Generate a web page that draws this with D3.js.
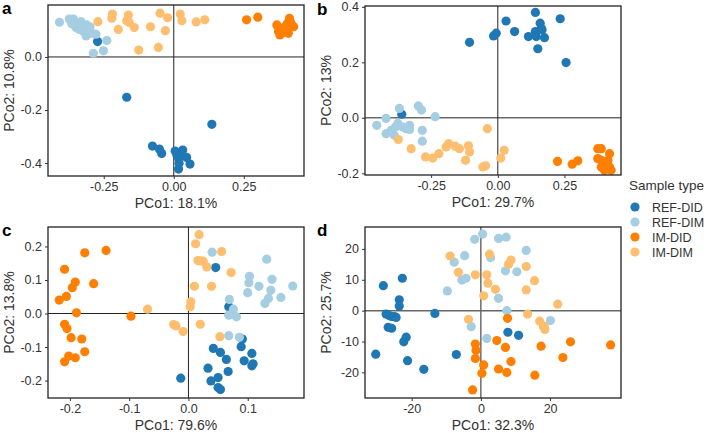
<!DOCTYPE html>
<html>
<head>
<meta charset="utf-8">
<script src="https://cdn.jsdelivr.net/npm/d3@7"></script>
<style>
  html, body { margin: 0; padding: 0; background: #fff; }
  svg { display: block; font-family: "Liberation Sans", Arial, sans-serif; }
</style>
</head>
<body>
<svg id="chart" width="708" height="433"></svg>
<script>
// --- Data ---
const groups = ["REF-DID", "REF-DIM", "IM-DID", "IM-DIM"];
const groupColors = ["#1f78b4", "#a6cee3", "#ff7f00", "#fdbf6f"];

// panel a
const aRefDid = [[-0.272,0.058],[-0.168,-0.152],[0.136,-0.254],[-0.076,-0.336],[-0.051,-0.348],[-0.043,-0.364],[0.005,-0.355],[0.023,-0.370],[0.032,-0.351],[0.017,-0.382],[0.046,-0.379],[0.058,-0.404],[0.019,-0.401],[0.017,-0.423],[0.011,-0.370]];
const aRefDim = [[-0.408,0.131],[-0.373,0.143],[-0.358,0.143],[-0.364,0.125],[-0.344,0.121],[-0.331,0.133],[-0.311,0.121],[-0.337,0.104],[-0.322,0.096],[-0.305,0.102],[-0.313,0.079],[-0.293,0.089],[-0.278,0.086],[-0.239,0.062],[-0.251,0.023],[-0.287,0.014],[-0.349,0.111],[-0.299,0.114]];
const aImDid = [[0.260,0.140],[0.300,0.150],[0.368,0.121],[0.379,0.108],[0.385,0.089],[0.401,0.096],[0.406,0.127],[0.413,0.146],[0.422,0.121],[0.428,0.114],[0.397,0.114],[0.416,0.133],[0.374,0.096],[0.391,0.102],[0.409,0.089],[0.379,0.083]];
const aImDim = [[-0.271,0.133],[-0.219,0.162],[-0.221,0.146],[-0.198,0.104],[-0.168,0.137],[-0.162,0.158],[-0.159,0.130],[-0.141,0.111],[-0.125,0.026],[-0.083,0.114],[-0.055,0.036],[-0.049,0.165],[-0.030,0.099],[-0.022,0.148],[0.023,0.162],[0.029,0.137],[0.080,0.132],[0.111,0.140]];

// panel b
const bRefDid = [[-0.106,0.272],[-0.016,0.295],[-0.006,0.305],[0.031,0.349],[0.063,0.311],[0.115,0.293],[0.141,0.380],[0.141,0.311],[0.144,0.293],[0.159,0.341],[0.163,0.323],[0.166,0.317],[0.175,0.289],[0.150,0.249],[0.234,0.357],[0.256,0.199],[-0.360,0.013]];
const bRefDim = [[-0.454,-0.027],[-0.419,-0.002],[-0.419,-0.057],[-0.400,-0.045],[-0.384,-0.033],[-0.369,0.034],[-0.375,-0.020],[-0.356,-0.033],[-0.344,-0.039],[-0.331,-0.027],[-0.331,-0.042],[-0.298,0.043],[-0.286,0.028],[-0.283,-0.045],[-0.283,-0.084],[-0.235,0.004],[-0.388,-0.063]];
const bImDid = [[0.224,-0.157],[0.279,-0.167],[0.300,-0.155],[0.375,-0.111],[0.388,-0.111],[0.419,-0.129],[0.375,-0.147],[0.394,-0.159],[0.406,-0.165],[0.419,-0.177],[0.388,-0.177],[0.400,-0.189],[0.425,-0.189],[0.388,-0.153],[0.413,-0.153]];
const bImDim = [[-0.373,-0.078],[-0.325,-0.111],[-0.271,-0.141],[-0.244,-0.145],[-0.221,-0.129],[-0.194,-0.105],[-0.184,-0.093],[-0.159,-0.102],[-0.144,-0.111],[-0.121,-0.153],[-0.110,-0.101],[-0.106,-0.123],[-0.056,-0.177],[-0.046,-0.173],[-0.039,-0.039],[0.011,-0.145],[0.024,-0.117]];

// panel c
const cRefDid = [[0.046,0.137],[0.068,0.020],[0.091,-0.076],[0.042,-0.104],[0.054,-0.116],[0.089,-0.099],[0.107,-0.119],[0.064,-0.137],[0.094,-0.141],[0.107,-0.156],[0.109,-0.150],[0.033,-0.163],[0.067,-0.173],[0.050,-0.191],[0.038,-0.201],[0.050,-0.221],[0.054,-0.227],[-0.013,-0.193]];
const cRefDim = [[0.040,0.183],[0.132,0.162],[0.103,0.111],[0.102,0.092],[0.141,0.102],[0.119,0.081],[0.139,0.069],[0.100,0.062],[0.156,0.048],[0.135,0.045],[0.129,0.030],[0.176,0.082],[0.069,0.042],[0.076,0.013],[0.068,-0.005],[0.081,-0.010],[0.068,-0.066],[0.086,-0.071]];
const cImDid = [[-0.209,0.132],[-0.218,0.040],[-0.206,0.051],[-0.196,0.077],[-0.191,0.094],[-0.175,0.181],[-0.139,0.188],[-0.160,0.089],[-0.189,0.002],[-0.209,-0.032],[-0.205,-0.045],[-0.198,-0.072],[-0.180,-0.076],[-0.175,-0.114],[-0.191,-0.132],[-0.202,-0.127],[-0.209,-0.144],[-0.097,-0.008]];
const cImDim = [[-0.069,0.013],[-0.025,-0.033],[-0.021,-0.037],[-0.009,-0.054],[0.004,0.035],[0.003,0.020],[0.018,0.235],[0.012,0.208],[0.016,0.158],[0.020,0.157],[0.025,0.156],[0.031,0.139],[0.010,0.081],[0.039,0.081],[0.056,0.185],[0.072,0.122],[0.020,-0.032],[0.053,-0.069]];

// panel d
const dRefDid = [[-30.4,-14.1],[-28.2,8.1],[-27.4,-1.1],[-26.5,-1.6],[-25.8,-1.9],[-25.0,-1.9],[-24.5,-2.2],[-26.8,-5.4],[-25.8,-5.7],[-23.6,3.5],[-23.6,1.5],[-22.7,10.5],[-21.6,-8.6],[-22.3,-10.1],[-21.2,-16.2],[-16.5,-19.0],[-13.3,-0.9],[-7.1,-14.2],[7.8,-7.0],[10.9,-8.0]];
const dRefDim = [[-9.7,6.4],[-7.7,15.7],[-5.5,9.9],[-4.7,17.8],[-4.3,10.5],[-1.8,23.1],[0.5,24.8],[2.8,17.2],[5.1,23.4],[7.3,23.8],[7.1,12.9],[10.4,12.6],[5.1,4.0],[13.1,19.5],[-2.8,-5.2],[1.7,-9.0],[7.5,0.0],[20.1,-3.2]];
const dImDid = [[7.7,-2.5],[4.6,-9.7],[7.1,-11.9],[-1.6,-10.8],[-1.4,-12.8],[-1.6,-15.5],[0.8,-17.6],[0.3,-20.3],[-2.4,-25.7],[5.1,-18.9],[7.5,-20.0],[8.7,-16.5],[17.4,-11.5],[18.2,-5.2],[15.6,-20.9],[23.7,-15.2],[25.9,-10.1],[37.5,-11.1]];
const dImDim = [[-8.9,17.7],[-6.5,12.4],[-1.6,11.6],[2.5,18.3],[1.7,11.6],[2.0,8.9],[4.2,6.9],[0.8,4.8],[-3.6,-2.8],[8.0,15.0],[8.7,16.4],[13.1,14.3],[13.1,6.7],[15.5,9.7],[13.5,-1.1],[17.0,-3.4],[18.2,-5.0],[18.5,-6.1],[22.2,2.1]];

// axis labels and ticks per panel
const panelLetters = ["a", "b", "c", "d"];
const xTitles = ["PCo1: 18.1%", "PCo1: 29.7%", "PCo1: 79.6%", "PCo1: 32.3%"];
const yTitles = ["PCo2: 10.8%", "PCo2: 13%", "PCo2: 13.8%", "PCo2: 25.7%"];
const xTicks = [[-0.25, 0, 0.25], [-0.25, 0, 0.25], [-0.2, -0.1, 0, 0.1], [-20, 0, 20]];
const yTicks = [[-0.4, -0.2, 0], [-0.2, 0, 0.2, 0.4], [-0.2, -0.1, 0, 0.1, 0.2], [-20, -10, 0, 10, 20]];
const xFormats = [".2f", ".2f", ".1f", "d"];
const yFormats = [".1f", ".1f", ".1f", "d"];
const xDomains = [[-0.449, 0.465], [-0.498, 0.462], [-0.237, 0.195], [-33.5, 40.5]];
const yDomains = [[-0.449, 0.196], [-0.206, 0.403], [-0.252, 0.258], [-28.3, 27.1]];

const panelData = [
    [aRefDid, aRefDim, aImDid, aImDim],
    [bRefDid, bRefDim, bImDid, bImDim],
    [cRefDid, cRefDim, cImDid, cImDim],
    [dRefDid, dRefDim, dImDid, dImDim]
];

// --- Layout ---
const boxes = [
    { left: 48, right: 304, top: 5, bottom: 176 },
    { left: 365, right: 621, top: 6, bottom: 175 },
    { left: 48, right: 304, top: 227, bottom: 398 },
    { left: 365, right: 621, top: 227, bottom: 398 }
];
const pointR = 4.6;
const textColor = "#333";

const svg = d3.select("#chart");

// hyphen instead of unicode minus, like the reference
const fmt = f => v => d3.format(f)(v).replace("\u2212", "-");

function drawPanel(i) {
    const b = boxes[i];
    const x = d3.scaleLinear().domain(xDomains[i]).range([b.left, b.right]);
    const y = d3.scaleLinear().domain(yDomains[i]).range([b.bottom, b.top]);
    const g = svg.append("g");

    // zero lines
    g.append("line")
        .attr("x1", x(0)).attr("x2", x(0))
        .attr("y1", b.top).attr("y2", b.bottom)
        .attr("stroke", "#222").attr("stroke-width", 1);
    g.append("line")
        .attr("x1", b.left).attr("x2", b.right)
        .attr("y1", y(0)).attr("y2", y(0))
        .attr("stroke", i === 3 ? "#666" : "#222").attr("stroke-width", i === 3 ? 1.5 : 1);

    // points
    panelData[i].forEach((pts, k) => {
        g.append("g").selectAll("circle")
            .data(pts)
            .join("circle")
            .attr("cx", d => x(d[0]))
            .attr("cy", d => y(d[1]))
            .attr("r", pointR)
            .attr("fill", groupColors[k]);
    });

    // frame
    g.append("rect")
        .attr("x", b.left).attr("y", b.top)
        .attr("width", b.right - b.left).attr("height", b.bottom - b.top)
        .attr("fill", "none").attr("stroke", "#222").attr("stroke-width", 1.3);

    // axes
    const xAxis = d3.axisBottom(x).tickValues(xTicks[i]).tickFormat(fmt(xFormats[i]))
        .tickSizeInner(3).tickSizeOuter(0).tickPadding(3);
    const gx = g.append("g").attr("transform", `translate(0,${b.bottom})`).call(xAxis);
    const yAxis = d3.axisLeft(y).tickValues(yTicks[i]).tickFormat(fmt(yFormats[i]))
        .tickSizeInner(3).tickSizeOuter(0).tickPadding(3);
    const gy = g.append("g").attr("transform", `translate(${b.left},0)`).call(yAxis);
    [gx, gy].forEach(ax => {
        ax.select(".domain").remove();
        ax.selectAll(".tick line").attr("stroke", "#333");
        ax.selectAll(".tick text")
            .attr("fill", textColor)
            .style("font-size", "12.5px")
            .style("font-family", "'Liberation Sans', Arial, sans-serif");
    });

    // titles
    g.append("text")
        .attr("x", (b.left + b.right) / 2)
        .attr("y", b.bottom + 32)
        .attr("text-anchor", "middle")
        .attr("fill", textColor)
        .style("font-size", "14px")
        .text(xTitles[i]);
    g.append("text")
        .attr("transform", `translate(${b.left - 39},${(b.top + b.bottom) / 2}) rotate(-90)`)
        .attr("dy", "0.35em")
        .attr("text-anchor", "middle")
        .attr("fill", textColor)
        .style("font-size", "14px")
        .text(yTitles[i]);

    // panel letter
    g.append("text")
        .attr("x", b.left - (i % 2 === 0 ? 46 : 48))
        .attr("y", b.top + 9)
        .attr("fill", "#000")
        .style("font-size", "17px")
        .style("font-weight", "bold")
        .text(panelLetters[i]);
}

[0, 1, 2, 3].forEach(drawPanel);

// --- Legend ---
const legend = svg.append("g").attr("transform", "translate(629,0)");
legend.append("text")
    .attr("x", 0).attr("y", 190)
    .attr("fill", textColor)
    .style("font-size", "13.5px")
    .text("Sample type");
const item = legend.selectAll(".item")
    .data(groups)
    .join("g")
    .attr("class", "item")
    .attr("transform", (d, k) => `translate(6,${207 + k * 15})`);
item.append("circle").attr("r", pointR).attr("fill", (d, k) => groupColors[k]);
item.append("text")
    .attr("x", 17).attr("y", 4.5)
    .attr("fill", textColor)
    .style("font-size", "12.5px")
    .text(d => d);
</script>
</body>
</html>
